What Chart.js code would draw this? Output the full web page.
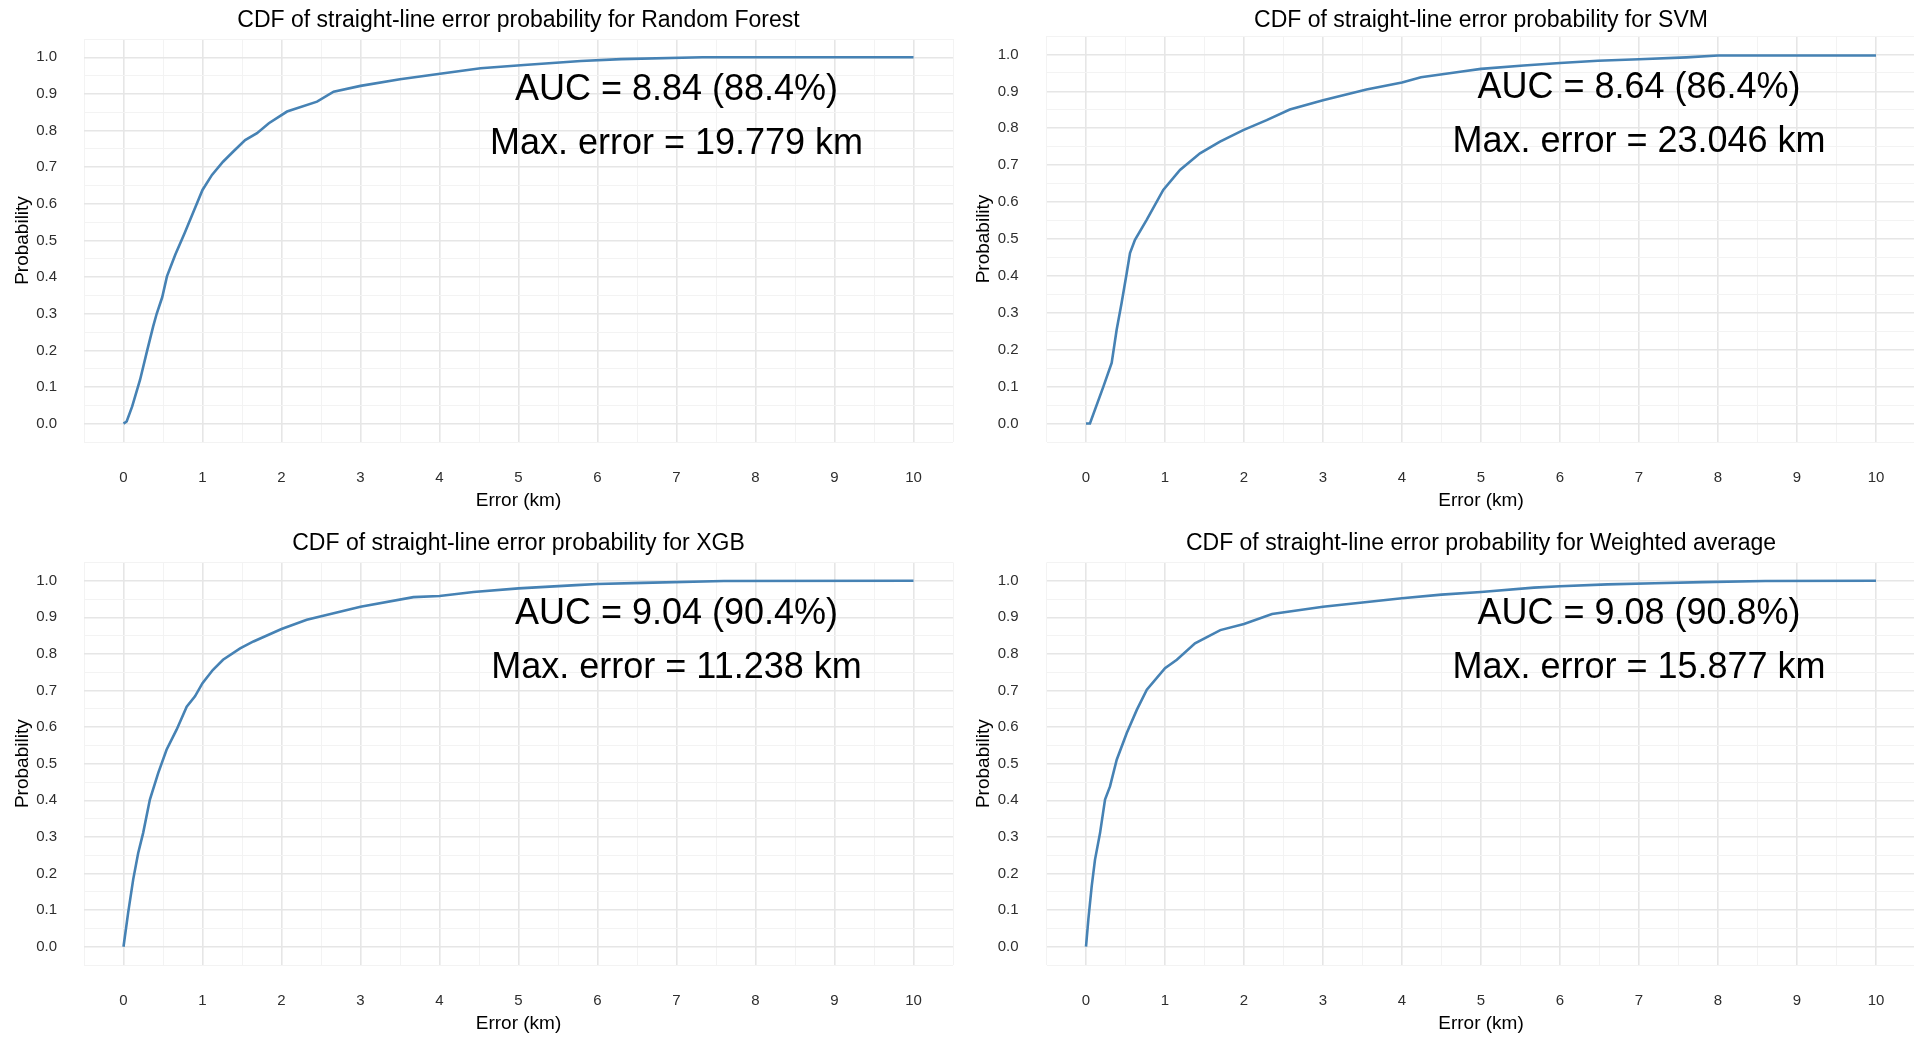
<!DOCTYPE html>
<html>
<head>
<meta charset="utf-8">
<script src="https://cdn.jsdelivr.net/npm/chart.js@4.4.0/dist/chart.umd.min.js"></script>
<style>
  html,body{margin:0;padding:0;background:#fff;}
  body{width:1914px;height:1038px;position:relative;overflow:hidden;}
  canvas{position:absolute;}
</style>
</head>
<body>
<canvas id="c0"></canvas>
<canvas id="c1"></canvas>
<canvas id="c2"></canvas>
<canvas id="c3"></canvas>
<script>
// ─── DATOS ────────────────────────────────────────────────────────────────────
const rfX  = [0, 0.04, 0.11, 0.21, 0.30, 0.375, 0.42, 0.49, 0.55, 0.655, 0.773, 0.887, 1.0, 1.12, 1.26, 1.39, 1.54, 1.69, 1.84, 2.07, 2.45, 2.66, 3.0, 3.5, 4.03, 4.52, 5.07, 5.79, 6.3, 7.33, 10];
const rfY  = [0, 0.006, 0.047, 0.12, 0.20, 0.265, 0.30, 0.345, 0.402, 0.461, 0.52, 0.579, 0.638, 0.679, 0.715, 0.743, 0.774, 0.793, 0.82, 0.852, 0.879, 0.906, 0.922, 0.94, 0.956, 0.97, 0.979, 0.99, 0.995, 1.0, 1.0];

const svmX = [0, 0.05, 0.22, 0.325, 0.388, 0.45, 0.515, 0.557, 0.62, 0.768, 0.978, 1.19, 1.443, 1.696, 1.99, 2.287, 2.58, 3.0, 3.55, 4.0, 4.24, 4.76, 5.0, 5.54, 6.0, 6.48, 7.0, 7.6, 8.0, 10];
const svmY = [0, 0, 0.10, 0.164, 0.254, 0.326, 0.407, 0.462, 0.498, 0.552, 0.633, 0.687, 0.732, 0.764, 0.795, 0.822, 0.851, 0.876, 0.905, 0.924, 0.938, 0.954, 0.961, 0.97, 0.977, 0.983, 0.987, 0.992, 0.997, 0.997];

const xgbX = [0, 0.059, 0.123, 0.186, 0.249, 0.334, 0.44, 0.545, 0.672, 0.80, 0.905, 1.0, 1.13, 1.26, 1.476, 1.645, 2.0, 2.32, 2.66, 3.0, 3.67, 4.0, 4.43, 5.0, 5.73, 6.0, 6.57, 7.6, 10];
const xgbY = [0, 0.093, 0.184, 0.256, 0.311, 0.402, 0.475, 0.538, 0.593, 0.656, 0.684, 0.72, 0.756, 0.784, 0.815, 0.834, 0.868, 0.893, 0.911, 0.929, 0.955, 0.958, 0.969, 0.979, 0.988, 0.991, 0.994, 0.999, 1.0];

const wavgX = [0, 0.03, 0.072, 0.114, 0.178, 0.241, 0.304, 0.389, 0.516, 0.643, 0.77, 1.0, 1.15, 1.38, 1.70, 2.0, 2.355, 3.0, 4.0, 4.5, 5.0, 5.67, 6.0, 6.6, 7.2, 7.8, 8.6, 10];
const wavgY = [0, 0.075, 0.165, 0.238, 0.311, 0.402, 0.438, 0.511, 0.584, 0.647, 0.702, 0.761, 0.784, 0.829, 0.865, 0.882, 0.909, 0.929, 0.952, 0.962, 0.969, 0.981, 0.985, 0.99, 0.993, 0.996, 0.999, 1.0];

const modelos     = ['Random Forest', 'SVM', 'XGB', 'Weighted average'];
const aucLabels   = ['AUC = 8.84 (88.4%)', 'AUC = 8.64 (86.4%)', 'AUC = 9.04 (90.4%)', 'AUC = 9.08 (90.8%)'];
const maxErrLabels= ['Max. error = 19.779 km', 'Max. error = 23.046 km', 'Max. error = 11.238 km', 'Max. error = 15.877 km'];
const annotX = 7, aucY = 0.91, maxErrY = 0.762;

const seriesX = [rfX, svmX, xgbX, wavgX];
const seriesY = [rfY, svmY, xgbY, wavgY];

// ─── LAYOUT ───────────────────────────────────────────────────────────────────
const panels = [
  {left:0,   top:0,   w:957, h:519, yW:84,   padR:4,   tTop:7.2, tBot:4.2, yTitlePad:11,   yTickGap:27},
  {left:957, top:0,   w:962, h:519, yW:89.5, padR:3.5, tTop:7.2, tBot:1.2, yTitlePad:15.6, yTickGap:28},
  {left:0,   top:523, w:957, h:519, yW:84,   padR:4,   tTop:7,   tBot:4.8, yTitlePad:11,   yTickGap:27},
  {left:957, top:523, w:962, h:519, yW:89.5, padR:3.5, tTop:7,   tBot:4.8, yTitlePad:15.6, yTickGap:28}
];
const FONT = '"Liberation Sans", Arial, sans-serif';
const MAJOR = '#e6e6e6', MINOR = '#f3f3f3';
const isInt = v => Math.abs(v - Math.round(v)) < 1e-6;
const isTenth = v => Math.abs(v*10 - Math.round(v*10)) < 1e-6;

const annotText = {
  id: 'annotText',
  afterDatasetsDraw(chart, args, opts) {
    const {ctx, scales:{x, y}} = chart;
    ctx.save();
    ctx.font = `36px ${FONT}`;
    ctx.fillStyle = '#000';
    ctx.textAlign = 'center';
    ctx.textBaseline = 'middle';
    (opts.lines || []).forEach(l => ctx.fillText(l.text, x.getPixelForValue(l.x), y.getPixelForValue(l.y)));
    ctx.restore();
  }
};

panels.forEach((p, i) => {
  const cv = document.getElementById('c'+i);
  cv.width = p.w; cv.height = p.h;
  cv.style.left = p.left+'px'; cv.style.top = p.top+'px';
  cv.style.width = p.w+'px'; cv.style.height = p.h+'px';

  new Chart(cv, {
    type:'line',
    data:{datasets:[{
      data: seriesX[i].map((x,k)=>({x, y:seriesY[i][k]})),
      borderColor:'#4682b4', borderWidth:2.6, pointRadius:0, tension:0, fill:false
    }]},
    plugins:[annotText],
    options:{
      responsive:false, animation:false, devicePixelRatio:1,
      layout:{padding:{left:0, right:p.padR, top:0, bottom:0}},
      plugins:{
        legend:{display:false}, tooltip:{enabled:false},
        // fullSize:false -> title centred over the plot area, like ggplot
        title:{display:true, fullSize:false, text:'CDF of straight-line error probability for '+modelos[i],
          color:'#000', font:{family:FONT, size:23, weight:'normal'}, padding:{top:p.tTop, bottom:p.tBot}},
        annotText:{lines:[{text:aucLabels[i], x:annotX, y:aucY}, {text:maxErrLabels[i], x:annotX, y:maxErrY}]}
      },
      scales:{
        x:{type:'linear', min:-0.5, max:10.5,
          border:{display:false},
          // transparent tick marks give the label gap without widening the scale padding
          grid:{drawTicks:true, tickLength:27, tickColor:'rgba(0,0,0,0)',
            color:c=>c.tick && isInt(c.tick.value) ? MAJOR : MINOR, lineWidth:c=>c.tick && isInt(c.tick.value) ? 1.6 : 1},
          ticks:{stepSize:0.5, autoSkip:false, maxRotation:0, padding:0, color:'#2e2e2e', font:{family:FONT, size:15},
            callback:v => (isInt(v) && v >= 0 && v <= 10) ? String(Math.round(v)) : ''},
          title:{display:true, text:'Error (km)', color:'#000', font:{family:FONT, size:19}, padding:{top:0, bottom:7}},
          afterFit:s => { s.height = 77; }
        },
        y:{type:'linear', min:-0.05, max:1.05,
          border:{display:false},
          grid:{drawTicks:true, tickLength:p.yTickGap, tickColor:'rgba(0,0,0,0)',
            color:c=>c.tick && isTenth(c.tick.value) ? MAJOR : MINOR, lineWidth:c=>c.tick && isTenth(c.tick.value) ? 1.6 : 1},
          ticks:{stepSize:0.05, autoSkip:false, padding:0, color:'#2e2e2e', font:{family:FONT, size:15},
            callback:v => (isTenth(v) && v > -0.01 && v < 1.01) ? v.toFixed(1) : ''},
          title:{display:true, text:'Probability', color:'#000', font:{family:FONT, size:19}, padding:{top:p.yTitlePad, bottom:0}},
          afterFit:s => { s.width = p.yW; }
        }
      }
    }
  });
});
</script>
</body>
</html>
